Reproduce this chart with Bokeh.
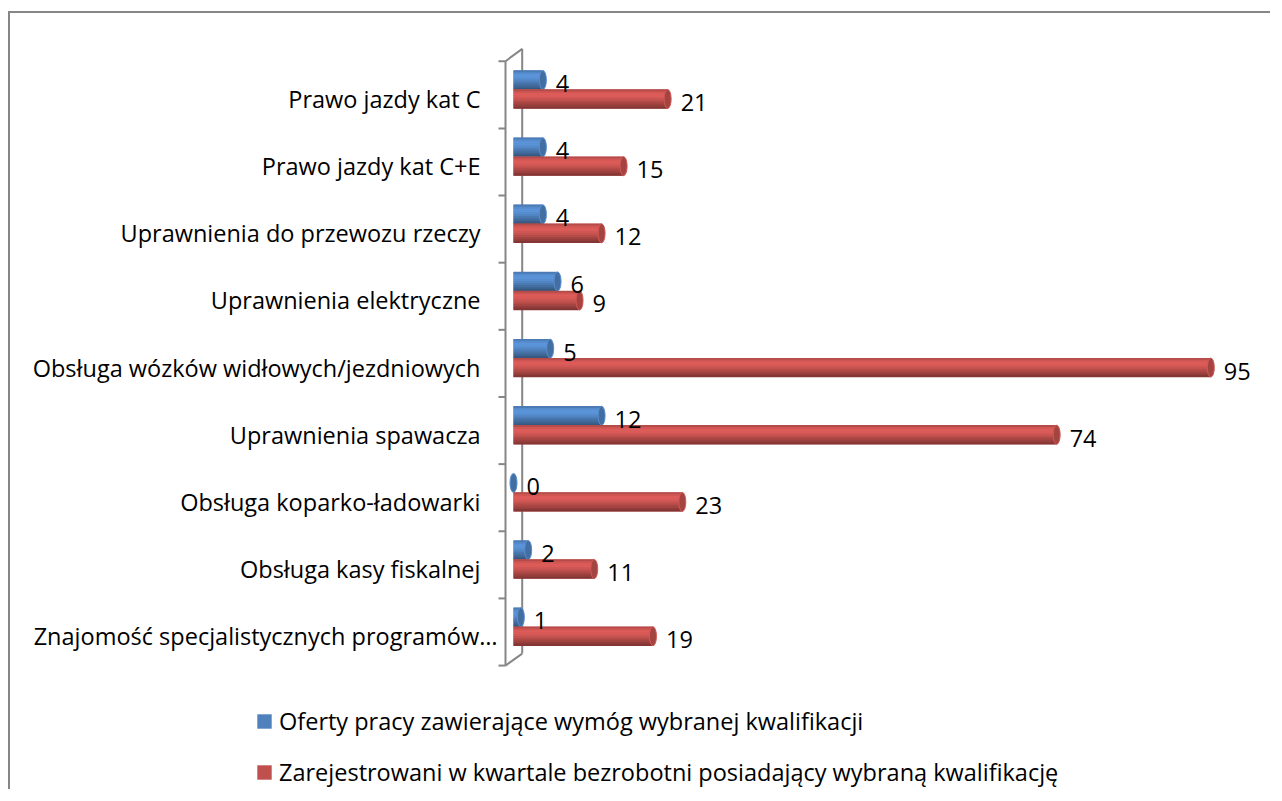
from bokeh.plotting import figure
from bokeh.models import Range1d, Legend, LegendItem
from bokeh.core.properties import value
from bokeh.embed import file_html
from bokeh.resources import INLINE

# ---------------- data ----------------
categories = [
    "Prawo jazdy kat C",
    "Prawo jazdy kat C+E",
    "Uprawnienia do przewozu rzeczy",
    "Uprawnienia elektryczne",
    "Obsługa wózków widłowych/jezdniowych",
    "Uprawnienia spawacza",
    "Obsługa koparko-ładowarki",
    "Obsługa kasy fiskalnej",
    "Znajomość specjalistycznych programów…",
]
oferty = [4, 4, 4, 6, 5, 12, 0, 2, 1]
zarejestrowani = [21, 15, 12, 9, 95, 74, 23, 11, 19]
series_names = [
    "Oferty pracy zawierające wymóg wybranej kwalifikacji",
    "Zarejestrowani w kwartale bezrobotni posiadający wybraną kwalifikację",
]

# ---------------- layout / style ----------------
W, H = 1262, 778
PX_X = 7.34          # pixels per value unit
X0 = 503             # canvas pixel of value 0
ROW = 67.15          # pixels per category
Y0 = 81.3            # canvas pixel of first category centre
FONT_NAME = "Open Sans"
FONT = value(FONT_NAME)
FS = "23.5px"
BLUE = (79, 129, 189)
RED = (192, 80, 77)
GRAY = "#868686"

N = len(categories)
idx = list(range(N))
BAR_H = 19.0 / ROW
blue_y = [i - 14.8 / ROW for i in idx]
red_y = [i + 4.2 / ROW for i in idx]


def hexcol(rgb, f=1.0):
    return "#%02x%02x%02x" % tuple(max(0, min(255, int(round(c * f)))) for c in rgb)


p = figure(
    width=W, height=H,
    x_range=Range1d(-X0 / PX_X, (W - X0) / PX_X),
    y_range=Range1d((H - Y0) / ROW, -Y0 / ROW),
    x_axis_type=None, y_axis_type=None,
    output_backend="svg", toolbar_location=None,
    min_border=0, outline_line_color=None,
)
p.grid.visible = False
p.styles = {"border-left": "2px solid #868686", "border-top": "2px solid #868686",
            "margin-top": "11px", "margin-left": "8px"}

# ---------------- 3D wall ----------------
front_x = -8.0 / PX_X
back_x = 8.7 / PX_X
tick_x = -15.0 / PX_X
top_f, bot_f = -0.5, N - 0.5
top_b, bot_b = top_f - 12.4 / ROW, bot_f - 12.0 / ROW
p.segment(x0=[front_x, back_x, front_x, front_x], y0=[top_f, top_b, top_f, bot_f],
          x1=[front_x, back_x, back_x, back_x], y1=[bot_f, bot_b, top_b, bot_b],
          line_color=GRAY, line_width=2)
bounds = [i - 0.5 for i in range(N + 1)]
p.segment(x0=[tick_x] * len(bounds), y0=bounds, x1=[front_x] * len(bounds), y1=bounds,
          line_color=GRAY, line_width=2)

# ---------------- cylinders ----------------
profile = [0.95, 1.08, 1.15, 1.14, 1.09, 1.02, 0.94, 0.86, 0.78, 0.68]
K = len(profile)


def cylinder(vals, ys, base):
    r = p.hbar(y=ys, left=0, right=vals, height=BAR_H, fill_color=hexcol(base),
               line_color=None)
    for k, f in enumerate(profile):
        yk = [y - BAR_H / 2 + (k + 0.5) * BAR_H / K for y in ys]
        p.hbar(y=yk, left=0, right=vals, height=BAR_H / K * 1.2,
               fill_color=hexcol(base, f), line_color=None)
    p.ellipse(x=vals, y=ys, width=7, height=19, width_units="screen",
              height_units="screen", fill_color=hexcol(base, 0.85),
              line_color=hexcol(base, 1.1), line_width=1)
    return r


r_blue = cylinder(oferty, blue_y, BLUE)
r_red = cylinder(zarejestrowani, red_y, RED)

# ---------------- value labels ----------------
for vals, ys in ((oferty, blue_y), (zarejestrowani, red_y)):
    p.text(x=vals, y=ys, text=[str(v) for v in vals], x_offset=13, y_offset=3.5,
           text_align="left", text_baseline="middle", text_font=FONT,
           text_font_size=FS, text_color="#000000")

# ---------------- category labels ----------------
# full labels end at a common right edge; the truncated one (with "…") reaches further
full = [i for i, c in enumerate(categories) if not c.endswith("…")]
trunc = [i for i, c in enumerate(categories) if c.endswith("…")]
for ids, off in ((full, -33), (trunc, -16)):
    p.text(x=[0] * len(ids), y=[red_y[i] for i in ids], text=[categories[i] for i in ids],
           x_offset=off, text_align="right", text_baseline="middle", text_font=FONT,
           text_font_size=FS, text_color="#000000")

# ---------------- legend ----------------
legend = Legend(
    items=[LegendItem(label=series_names[0], renderers=[r_blue]),
           LegendItem(label=series_names[1], renderers=[r_red])],
    location=(245, 3), orientation="vertical",
    glyph_width=18, glyph_height=18, label_standoff=6, label_height=30,
    spacing=19, padding=0, margin=0, border_line_color=None,
    background_fill_alpha=0, label_text_font=FONT_NAME, label_text_font_size=FS,
    label_text_color="#000000",
)
p.add_layout(legend)

open("out.html", "w").write(file_html(p, INLINE))
